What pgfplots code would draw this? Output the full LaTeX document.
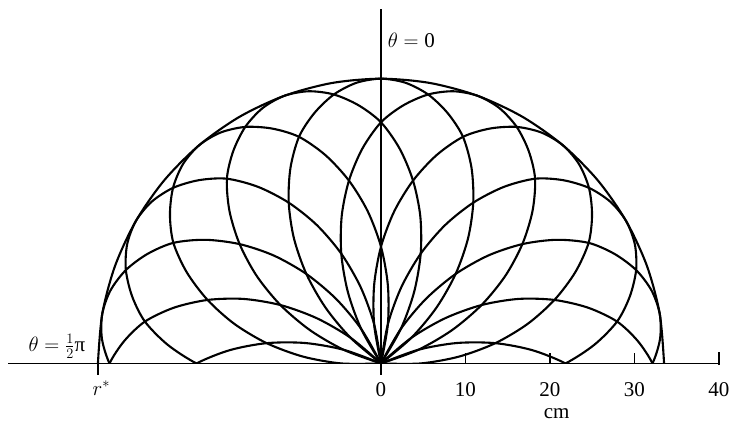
\documentclass[border=0pt]{standalone}
\usepackage{pgfplots}
\pgfplotsset{compat=1.18}
\usepackage{fontspec}
\setmainfont{Liberation Serif}
\newcommand{\fs}{\fontsize{21}{23}\selectfont}
\pgfplotsset{petal/.style={black, line width=2.1pt, smooth, data cs=polar}}
\begin{document}
\begin{tikzpicture}
\begin{axis}[
    hide axis,
    x=8.45pt, y=8.5pt,
    xmin=-45.09, xmax=41.66,
    ymin=0, ymax=42.76,
    clip mode=individual,
]
% envelope r = r*
\addplot[petal] coordinates {(0,33.5) (10,33.5) (20,33.5) (30,33.5) (40,33.5) (50,33.5) (60,33.5) (70,33.5) (80,33.5) (90,33.5) (100,33.5) (110,33.5) (120,33.5) (130,33.5) (140,33.5) (150,33.5) (160,33.5) (170,33.5) (180,33.5)};
% lobes (angle in degrees, r in cm)
\addplot[petal] coordinates {(34.8,0) (40,4.69) (45,9.28) (50,13.74) (55,17.96) (60,21.84) (65,25.36) (70,28.37) (75,30.49) (80,32.13) (85,33.15) (90,33.5) (95,33.15) (100,32.13) (105,30.49) (110,28.37) (115,25.36) (120,21.84) (125,17.96) (130,13.74) (135,9.28) (140,4.69) (145.2,0)};
\addplot[petal] coordinates {(14.8,0) (20,4.69) (25,9.28) (30,13.74) (35,17.96) (40,21.84) (45,25.36) (50,28.37) (55,30.49) (60,32.13) (65,33.15) (70,33.5) (75,33.15) (80,32.13) (85,30.49) (90,28.37) (95,25.36) (100,21.84) (105,17.96) (110,13.74) (115,9.28) (120,4.69) (125.2,0)};
\addplot[petal] coordinates {(54.8,0) (60,4.69) (65,9.28) (70,13.74) (75,17.96) (80,21.84) (85,25.36) (90,28.37) (95,30.49) (100,32.13) (105,33.15) (110,33.5) (115,33.15) (120,32.13) (125,30.49) (130,28.37) (135,25.36) (140,21.84) (145,17.96) (150,13.74) (155,9.28) (160,4.69) (165.2,0)};
\addplot[petal] coordinates {(-5.2,0) (0,4.69) (5,9.28) (10,13.74) (15,17.96) (20,21.84) (25,25.36) (30,28.37) (35,30.49) (40,32.13) (45,33.15) (50,33.5) (55,33.15) (60,32.13) (65,30.49) (70,28.37) (75,25.36) (80,21.84) (85,17.96) (90,13.74) (95,9.28) (100,4.69) (105.2,0)};
\addplot[petal] coordinates {(74.8,0) (80,4.69) (85,9.28) (90,13.74) (95,17.96) (100,21.84) (105,25.36) (110,28.37) (115,30.49) (120,32.13) (125,33.15) (130,33.5) (135,33.15) (140,32.13) (145,30.49) (150,28.37) (155,25.36) (160,21.84) (165,17.96) (170,13.74) (175,9.28) (180,4.69) (185.2,0)};
\addplot[petal] coordinates {(-25.2,0) (-20,4.69) (-15,9.28) (-10,13.74) (-5,17.96) (0,21.84) (5,25.36) (10,28.37) (15,30.49) (20,32.13) (25,33.15) (30,33.5) (35,33.15) (40,32.13) (45,30.49) (50,28.37) (55,25.36) (60,21.84) (65,17.96) (70,13.74) (75,9.28) (80,4.69) (85.2,0)};
\addplot[petal] coordinates {(94.8,0) (100,4.69) (105,9.28) (110,13.74) (115,17.96) (120,21.84) (125,25.36) (130,28.37) (135,30.49) (140,32.13) (145,33.15) (150,33.5) (155,33.15) (160,32.13) (165,30.49) (170,28.37) (175,25.36) (180,21.84) (185,17.96) (190,13.74) (195,9.28) (200,4.69) (205.2,0)};
\addplot[petal] coordinates {(-45.2,0) (-40,4.69) (-35,9.28) (-30,13.74) (-25,17.96) (-20,21.84) (-15,25.36) (-10,28.37) (-5,30.49) (0,32.13) (5,33.15) (10,33.5) (15,33.15) (20,32.13) (25,30.49) (30,28.37) (35,25.36) (40,21.84) (45,17.96) (50,13.74) (55,9.28) (60,4.69) (65.2,0)};
\addplot[petal] coordinates {(114.8,0) (120,4.69) (125,9.28) (130,13.74) (135,17.96) (140,21.84) (145,25.36) (150,28.37) (155,30.49) (160,32.13) (165,33.15) (170,33.5) (175,33.15) (180,32.13) (185,30.49) (190,28.37) (195,25.36) (200,21.84) (205,17.96) (210,13.74) (215,9.28) (220,4.69) (225.2,0)};
\addplot[petal] coordinates {(-65.2,0) (-60,4.69) (-55,9.28) (-50,13.74) (-45,17.96) (-40,21.84) (-35,25.36) (-30,28.37) (-25,30.49) (-20,32.13) (-15,33.15) (-10,33.5) (-5,33.15) (0,32.13) (5,30.49) (10,28.37) (15,25.36) (20,21.84) (25,17.96) (30,13.74) (35,9.28) (40,4.69) (45.2,0)};
\addplot[petal] coordinates {(134.8,0) (140,4.69) (145,9.28) (150,13.74) (155,17.96) (160,21.84) (165,25.36) (170,28.37) (175,30.49) (180,32.13) (185,33.15) (190,33.5) (195,33.15) (200,32.13) (205,30.49) (210,28.37) (215,25.36) (220,21.84) (225,17.96) (230,13.74) (235,9.28) (240,4.69) (245.2,0)};
\addplot[petal] coordinates {(-85.2,0) (-80,4.69) (-75,9.28) (-70,13.74) (-65,17.96) (-60,21.84) (-55,25.36) (-50,28.37) (-45,30.49) (-40,32.13) (-35,33.15) (-30,33.5) (-25,33.15) (-20,32.13) (-15,30.49) (-10,28.37) (-5,25.36) (0,21.84) (5,17.96) (10,13.74) (15,9.28) (20,4.69) (25.2,0)};
\addplot[petal] coordinates {(154.8,0) (160,4.69) (165,9.28) (170,13.74) (175,17.96) (180,21.84) (185,25.36) (190,28.37) (195,30.49) (200,32.13) (205,33.15) (210,33.5) (215,33.15) (220,32.13) (225,30.49) (230,28.37) (235,25.36) (240,21.84) (245,17.96) (250,13.74) (255,9.28) (260,4.69) (265.2,0)};
% axes
\draw[line width=1.4pt] (axis cs:-44.14,0) -- (axis cs:40,0);
\draw[line width=1.4pt] (axis cs:0,-1.35) -- (axis cs:0,41.7);
\draw[line width=1.4pt] (axis cs:10,0) -- (axis cs:10,1.2);
\draw[line width=1.4pt] (axis cs:20,0) -- (axis cs:20,1.2);
\draw[line width=1.4pt] (axis cs:30,0) -- (axis cs:30,1.2);
\draw[line width=1.4pt] (axis cs:40,-0.2) -- (axis cs:40,1.3);
\draw[line width=1.8pt] (axis cs:-33.5,0) -- (axis cs:-33.5,-1.35);
% labels
\node[font=\fs] at (axis cs:0,-3.1) {0};
\node[font=\fs] at (axis cs:10,-3.1) {10};
\node[font=\fs] at (axis cs:20,-3.1) {20};
\node[font=\fs] at (axis cs:30,-3.1) {30};
\node[font=\fs] at (axis cs:40,-3.1) {40};
\node[font=\fs] at (axis cs:20.8,-5.9) {cm};
\node[font=\fs] at (axis cs:-33.1,-2.9) {$r^{*}$};
\node[font=\fs, anchor=west] at (axis cs:0.4,38.06) {$\theta = \mbox{0}$};
\node[font=\fs, anchor=east] at (axis cs:-34.6,2.0) {$\theta = \frac{1}{2}\mbox{π}$};
\path (axis cs:-45.09,-6.88) rectangle (axis cs:41.66,42.76);
\end{axis}
\end{tikzpicture}
\end{document}
